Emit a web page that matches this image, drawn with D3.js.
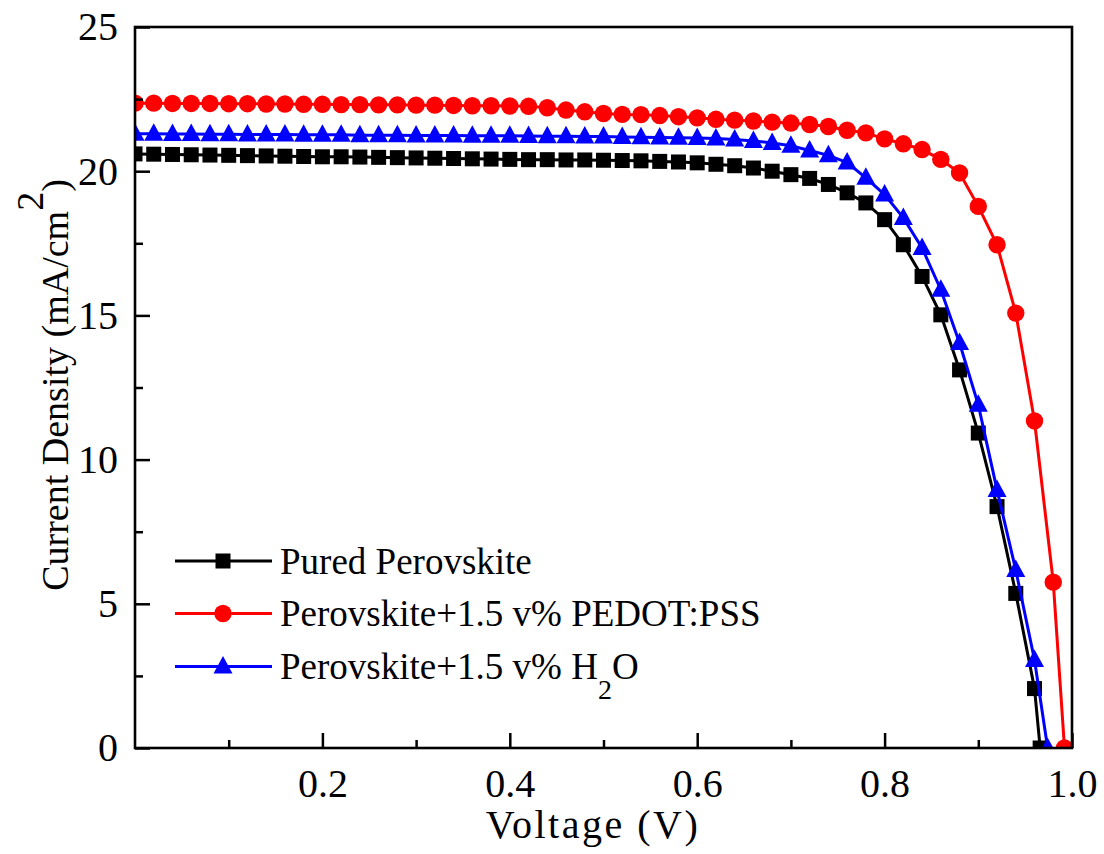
<!DOCTYPE html>
<html>
<head>
<meta charset="utf-8">
<script src="https://cdn.jsdelivr.net/npm/d3@7"></script>
<style>
  body { margin: 0; background: #fff; }
  svg text { font-family: "Liberation Serif", "Times New Roman", serif; fill: #000; }
</style>
</head>
<body>
<div id="chart"></div>
<script>
// voltage grid (V)
const voltage = [0.00, 0.02, 0.04, 0.06, 0.08, 0.10, 0.12, 0.14, 0.16, 0.18,
  0.20, 0.22, 0.24, 0.26, 0.28, 0.30, 0.32, 0.34, 0.36, 0.38,
  0.40, 0.42, 0.44, 0.46, 0.48, 0.50, 0.52, 0.54, 0.56, 0.58,
  0.60, 0.62, 0.64, 0.66, 0.68, 0.70, 0.72, 0.74, 0.76, 0.78,
  0.80, 0.82, 0.84, 0.86, 0.88, 0.90, 0.92, 0.94, 0.96, 0.98];

// current density (mA/cm2)
const jPure = [20.60, 20.59, 20.58, 20.57, 20.56, 20.55, 20.54, 20.53, 20.52, 20.51,
  20.50, 20.50, 20.49, 20.48, 20.47, 20.46, 20.45, 20.44, 20.43, 20.42,
  20.41, 20.40, 20.40, 20.39, 20.39, 20.38, 20.37, 20.36, 20.34, 20.32,
  20.29, 20.24, 20.19, 20.11, 20.00, 19.88, 19.75, 19.54, 19.25, 18.90,
  18.32, 17.45, 16.35, 15.02, 13.11, 10.92, 8.37, 5.36, 2.06];
const jPedot = [22.36, 22.36, 22.35, 22.35, 22.35, 22.34, 22.34, 22.33, 22.33, 22.32,
  22.32, 22.31, 22.31, 22.30, 22.30, 22.29, 22.29, 22.28, 22.27, 22.27,
  22.26, 22.25, 22.20, 22.12, 22.06, 22.00, 21.97, 21.96, 21.93, 21.89,
  21.85, 21.80, 21.77, 21.74, 21.70, 21.67, 21.62, 21.55, 21.42, 21.33,
  21.12, 20.95, 20.75, 20.41, 19.94, 18.78, 17.45, 15.08, 11.34, 5.75];
const jWater = [21.30, 21.30, 21.29, 21.29, 21.28, 21.28, 21.27, 21.27, 21.27, 21.26,
  21.26, 21.26, 21.25, 21.25, 21.25, 21.24, 21.24, 21.24, 21.23, 21.23,
  21.23, 21.22, 21.21, 21.21, 21.20, 21.20, 21.19, 21.18, 21.17, 21.16,
  21.15, 21.13, 21.10, 21.05, 20.98, 20.88, 20.72, 20.55, 20.30, 19.77,
  19.19, 18.38, 17.34, 15.89, 14.04, 11.90, 8.95, 6.17, 3.05];

// open-circuit voltage, last point of each curve (J = 0)
const vocPure = 0.966;
const vocPedot = 0.992;
const vocWater = 0.974;

const xTicks = [0.2, 0.4, 0.6, 0.8, 1.0];
const xMinor = [0.1, 0.3, 0.5, 0.7, 0.9];
const yTicks = [0, 5, 10, 15, 20, 25];
const yMinor = [2.5, 7.5, 12.5, 17.5, 22.5];

function makePoints(j, voc) {
  const pts = j.map((d, i) => ({ v: voltage[i], j: d }));
  pts.push({ v: voc, j: 0 });
  return pts;
}

const series = [
  { name: "Pured Perovskite", color: "#000000", symbol: "square", points: makePoints(jPure, vocPure) },
  { name: "Perovskite+1.5 v% PEDOT:PSS", color: "#ff0000", symbol: "circle", points: makePoints(jPedot, vocPedot) },
  { name: "Perovskite+1.5 v% H2O", color: "#0000ff", symbol: "triangle", points: makePoints(jWater, vocWater) }
];

const width = 1104;
const height = 854;
const plotLeft = 135, plotRight = 1072, plotTop = 27, plotBottom = 748;

const svg = d3.select("#chart").append("svg")
  .attr("width", width)
  .attr("height", height);

const x = d3.scaleLinear().domain([0, 1.0]).range([plotLeft, plotRight]);
const y = d3.scaleLinear().domain([0, 25]).range([plotBottom, plotTop]);

svg.append("clipPath").attr("id", "plotclip")
  .append("rect")
  .attr("x", plotLeft).attr("y", plotTop)
  .attr("width", plotRight - plotLeft).attr("height", plotBottom - plotTop);

// marker shapes
function drawMarker(g, type, color) {
  if (type === "square") {
    g.append("rect").attr("x", -7.5).attr("y", -7.5).attr("width", 15).attr("height", 15).attr("fill", color);
  } else if (type === "circle") {
    g.append("circle").attr("r", 8.7).attr("fill", color);
  } else {
    g.append("path").attr("d", "M0,-10.5L9.5,7L-9.5,7Z").attr("fill", color);
  }
}

const line = d3.line().x(d => x(d.v)).y(d => y(d.j));

const plot = svg.append("g").attr("clip-path", "url(#plotclip)");

series.forEach(s => {
  plot.append("path")
    .datum(s.points)
    .attr("fill", "none")
    .attr("stroke", s.color)
    .attr("stroke-width", 3)
    .attr("d", line);
  plot.selectAll(null)
    .data(s.points)
    .enter()
    .append("g")
    .attr("transform", d => "translate(" + x(d.v) + "," + y(d.j) + ")")
    .each(function() { drawMarker(d3.select(this), s.symbol, s.color); });
});

// axes with inward ticks
svg.append("g")
  .attr("transform", "translate(0," + plotBottom + ")")
  .call(d3.axisBottom(x).tickValues(xTicks).tickFormat(d3.format(".1f")).tickSize(-15).tickPadding(21));
svg.append("g")
  .attr("transform", "translate(0," + plotBottom + ")")
  .call(d3.axisBottom(x).tickValues(xMinor).tickFormat("").tickSize(-8));

svg.append("g")
  .attr("transform", "translate(" + plotLeft + ",0)")
  .call(d3.axisLeft(y).tickValues(yTicks).tickSize(-15).tickPadding(17));
svg.append("g")
  .attr("transform", "translate(" + plotLeft + ",0)")
  .call(d3.axisLeft(y).tickValues(yMinor).tickFormat("").tickSize(-8));

svg.selectAll(".domain").remove();
svg.selectAll(".tick line").attr("stroke", "#000").attr("stroke-width", 2.5);
svg.selectAll(".tick text")
  .style("font-family", "'Liberation Serif', 'Times New Roman', serif")
  .style("font-size", "40px");

// frame
svg.append("rect")
  .attr("x", plotLeft).attr("y", plotTop)
  .attr("width", plotRight - plotLeft).attr("height", plotBottom - plotTop)
  .attr("fill", "none")
  .attr("stroke", "#000")
  .attr("stroke-width", 2.6);

// axis titles
svg.append("text")
  .attr("x", 593)
  .attr("y", 838)
  .attr("text-anchor", "middle")
  .style("font-size", "40px")
  .style("letter-spacing", "2.5px")
  .text("Voltage (V)");

const yTitle = svg.append("text")
  .attr("transform", "translate(68,385) rotate(-90)")
  .attr("text-anchor", "middle")
  .style("font-size", "38px");
yTitle.append("tspan").text("Current Density (mA/cm");
yTitle.append("tspan").attr("dy", -25).text("2");
yTitle.append("tspan").attr("dy", 25).text(")");

// legend
const legend = svg.append("g");
const rowY = [561, 613.5, 666.5];
series.forEach((s, i) => {
  const row = legend.append("g").attr("transform", "translate(0," + rowY[i] + ")");
  row.append("line")
    .attr("x1", 175).attr("x2", 272)
    .attr("stroke", s.color).attr("stroke-width", 3);
  const m = row.append("g").attr("transform", "translate(223,0)");
  drawMarker(m, s.symbol, s.color);
  const t = row.append("text")
    .attr("x", 280)
    .attr("y", 12.5)
    .style("font-size", "37px");
  if (i === 2) {
    t.append("tspan").text("Perovskite+1.5 v% H");
    t.append("tspan").attr("dy", 20).style("font-size", "28px").text("2");
    t.append("tspan").attr("dy", -20).text("O");
  } else {
    t.text(s.name);
  }
});
</script>
</body>
</html>
